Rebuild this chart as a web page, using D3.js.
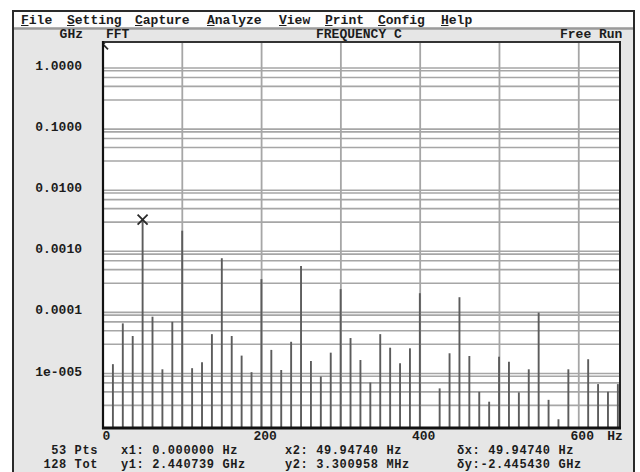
<!DOCTYPE html>
<html><head><meta charset="utf-8">
<script src="https://cdn.jsdelivr.net/npm/d3@7"></script>
<style>
body{margin:0;background:#fff}
svg{display:block}
text{font-family:"Liberation Mono","DejaVu Sans Mono",monospace;font-weight:bold;font-size:13px;fill:#1c1c1c}
text.st{font-size:12px;letter-spacing:0.6px}
</style>
</head><body>
<svg id="c" width="640" height="472"></svg>
<script>
// ---- data ----
const freqs = [0, 12.49, 24.97, 37.46, 49.95, 62.43, 74.92, 87.41, 99.89, 112.38,
  124.87, 137.35, 149.84, 162.33, 174.82, 187.30, 199.79, 212.28, 224.76, 237.25,
  249.74, 262.22, 274.71, 287.20, 299.68, 312.17, 324.66, 337.14, 349.63, 362.12,
  374.61, 387.09, 399.58, 412.07, 424.55, 437.04, 449.53, 462.01, 474.50, 486.99,
  499.47, 511.96, 524.45, 536.93, 549.42, 561.91, 574.40, 586.88, 599.37, 611.86,
  624.34, 636.83, 649.32];
const magnitudes = [2.440739, 1.42e-5, 6.6e-5, 4.1e-5, 0.003300958, 8.5e-5, 1.17e-5, 7.0e-5, 2.17e-3, 1.22e-5,
  1.52e-5, 4.4e-5, 7.7e-4, 4.1e-5, 1.96e-5, 1.05e-5, 3.5e-4, 2.43e-5, 1.14e-5, 3.3e-5,
  5.75e-4, 1.6e-5, 8.9e-6, 2.19e-5, 2.4e-4, 3.8e-5, 1.66e-5, 7.1e-6, 4.4e-5, 2.64e-5,
  1.47e-5, 2.58e-5, 2.06e-4, 1.0e-6, 5.7e-6, 2.14e-5, 1.77e-4, 1.93e-5, 5.0e-6, 3.45e-6,
  1.88e-5, 1.56e-5, 4.9e-6, 1.17e-5, 9.9e-5, 3.7e-6, 1.78e-6, 1.17e-5, 1.0e-6, 1.71e-5,
  6.7e-6, 5.0e-6, 6.7e-6];
const yTickValues = [1, 0.1, 0.01, 0.001, 0.0001, 0.00001];
const yTickLabels = ["1.0000", "0.1000", "0.0100", "0.0010", "0.0001", "1e-005"];
const xTickValues = [0, 200, 400, 600];
const xTickLabels = ["0", "200", "400", "600"];
const xGridValues = [100, 200, 300, 400, 500, 600];
const gridMultipliers = [1, 3, 5, 7, 9];
const menuItems = ["File", "Setting", "Capture", "Analyze", "View", "Print", "Config", "Help"];
const headerTexts = ["GHz", "FFT", "FREQUENCY C", "Free Run"];
const statusRow1 = ["53 Pts", "x1: 0.000000 Hz", "x2: 49.94740 Hz", "δx: 49.94740 Hz"];
const statusRow2 = ["128 Tot", "y1: 2.440739 GHz", "y2: 3.300958 MHz", "δy:-2.445430 GHz"];
const cursorFreqs = [0, 49.9474];
const cursorValues = [2.440739, 0.003300958];

// ---- layout ----
const L = 103, R = 620, T = 42, B = 428;
const svg = d3.select("#c");
const x = d3.scaleLinear().domain([0, 652]).range([L, R]);
const y = d3.scaleLog().domain([1.28e-6, 2.666]).range([B, T]).clamp(true);

svg.append("rect").attr("width", 640).attr("height", 472).attr("fill", "#fff");
// outer window
svg.append("rect").attr("x", 13).attr("y", 11).attr("width", 621).attr("height", 470)
  .attr("fill", "#e6e6e6").attr("stroke", "#2a2a2a").attr("stroke-width", 2);
svg.append("rect").attr("x", 14).attr("y", 12).attr("width", 619).attr("height", 15.5).attr("fill", "#fdfdfd");
svg.append("line").attr("x1", 14).attr("x2", 633).attr("y1", 28.5).attr("y2", 28.5)
  .attr("stroke", "#9a9a9a").attr("stroke-width", 2.5);

// menu
const menuX = [21, 67, 135, 207, 279, 325, 378, 441];
const mg = svg.append("g");
menuItems.forEach((m, i) => {
  mg.append("text").attr("x", menuX[i]).attr("y", 23.5).text(m);
  mg.append("line").attr("x1", menuX[i]).attr("x2", menuX[i] + 7.5)
    .attr("y1", 25.5).attr("y2", 25.5).attr("stroke", "#1c1c1c").attr("stroke-width", 1);
});

// header row
svg.append("text").attr("x", 83).attr("y", 37.5).attr("text-anchor", "end").text(headerTexts[0]);
svg.append("text").attr("x", 106).attr("y", 37.5).text(headerTexts[1]);
svg.append("text").attr("x", 316).attr("y", 37.5).text(headerTexts[2]);
svg.append("text").attr("x", 560).attr("y", 37.5).text(headerTexts[3]);

// plot area
svg.append("rect").attr("x", L).attr("y", T).attr("width", R - L).attr("height", B - T).attr("fill", "#fff");
svg.append("clipPath").attr("id", "pc").append("rect")
  .attr("x", L).attr("y", T).attr("width", R - L).attr("height", B - T);
const plot = svg.append("g").attr("clip-path", "url(#pc)");

// horizontal grid (1,3,5,7,9 x 10^k)
const hGrid = [];
for (let k = -6; k <= 0; k++) gridMultipliers.forEach(m => {
  const v = m * Math.pow(10, k);
  if (v > 1.28e-6 && v < 2.666) hGrid.push(v);
});
plot.selectAll("line.hg").data(hGrid).join("line").attr("class", "hg")
  .attr("x1", L).attr("x2", R).attr("y1", d => y(d)).attr("y2", d => y(d))
  .attr("stroke", "#a6a6a6").attr("stroke-width", 1.6);
// vertical grid
plot.selectAll("line.vg").data(xGridValues).join("line").attr("class", "vg")
  .attr("x1", d => x(d)).attr("x2", d => x(d)).attr("y1", T).attr("y2", B)
  .attr("stroke", "#a6a6a6").attr("stroke-width", 1.8);

// spikes
const pts = freqs.map((f, i) => ({ f, v: magnitudes[i] }));
plot.selectAll("line.sp").data(pts).join("line").attr("class", "sp")
  .attr("x1", d => x(d.f)).attr("x2", d => x(d.f))
  .attr("y1", B).attr("y2", d => y(d.v))
  .attr("stroke", "#5c5c5c").attr("stroke-width", 1.9);

// cursor markers
const cur = cursorFreqs.map((f, i) => ({ f, v: cursorValues[i] }));
const s = 5;
plot.selectAll("path.cm").data(cur).join("path").attr("class", "cm")
  .attr("d", d => {
    const cx = x(d.f), cy = y(d.v);
    return `M${cx - s},${cy - s}L${cx + s},${cy + s}M${cx - s},${cy + s}L${cx + s},${cy - s}`;
  })
  .attr("stroke", "#2a2a2a").attr("stroke-width", 1.8).attr("fill", "none");

// borders
svg.append("line").attr("x1", L - 1).attr("x2", R + 1).attr("y1", T).attr("y2", T).attr("stroke", "#333").attr("stroke-width", 2);
svg.append("line").attr("x1", L).attr("x2", L).attr("y1", T - 1).attr("y2", B + 1).attr("stroke", "#111").attr("stroke-width", 2.2);
svg.append("line").attr("x1", R).attr("x2", R).attr("y1", T - 1).attr("y2", B + 1).attr("stroke", "#222").attr("stroke-width", 2);
svg.append("line").attr("x1", L - 1).attr("x2", R + 1).attr("y1", B).attr("y2", B).attr("stroke", "#111").attr("stroke-width", 3);

// y axis labels
const ya = svg.append("g").attr("transform", `translate(${L},0)`)
  .call(d3.axisLeft(y).tickValues(yTickValues).tickFormat((d, i) => yTickLabels[i]).tickSize(0).tickPadding(21));
ya.select(".domain").remove();
ya.selectAll("text").attr("font-family", null).attr("font-size", null).attr("fill", "#1c1c1c").attr("dy", "0.12em");

// x axis labels
const xa = svg.append("g").attr("transform", `translate(0,${B})`)
  .call(d3.axisBottom(x).tickValues(xTickValues).tickFormat((d, i) => xTickLabels[i]).tickSize(0).tickPadding(3));
xa.select(".domain").remove();
xa.selectAll("text").attr("font-family", null).attr("font-size", null).attr("fill", "#1c1c1c").attr("dx", 3);
svg.append("text").attr("x", 615).attr("y", 440).attr("text-anchor", "middle").text("Hz");

// status rows
const colX = [98, 121, 285, 457];
[statusRow1, statusRow2].forEach((row, r) => {
  row.forEach((t, c) => {
    svg.append("text").attr("class", "st").attr("x", colX[c]).attr("y", 454 + r * 14)
      .attr("text-anchor", c === 0 ? "end" : "start").text(t);
  });
});
</script>
</body></html>
